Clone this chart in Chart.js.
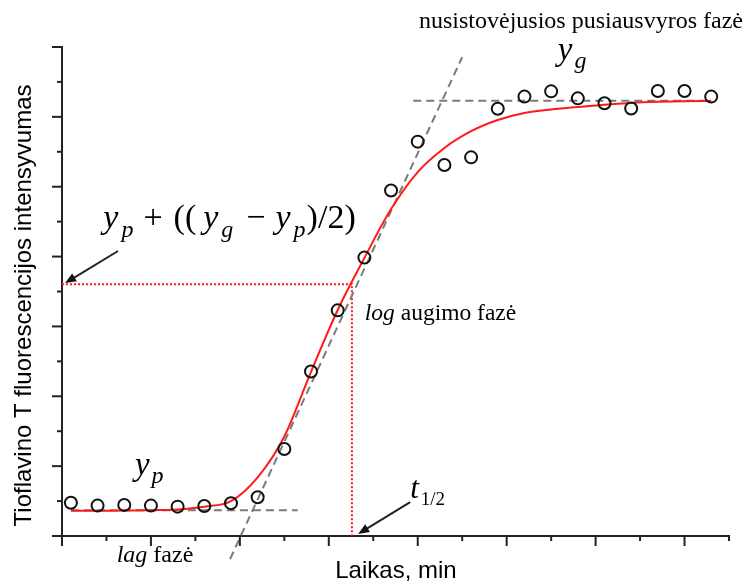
<!DOCTYPE html>
<html>
<head>
<meta charset="utf-8">
<script src="https://cdn.jsdelivr.net/npm/chart.js@4.4.1/dist/chart.umd.min.js"></script>
<style>
  html, body { margin: 0; padding: 0; background: #fff; }
  canvas { display: block; }
</style>
</head>
<body>
<canvas id="kinetics" width="745" height="581"></canvas>
<script>
const times = [0.2, 0.8, 1.4, 2.0, 2.6, 3.2, 3.8, 4.4, 5.0, 5.6, 6.2, 6.8, 7.4,
  8.0, 8.6, 9.2, 9.8, 10.4, 11.0, 11.6, 12.2, 12.8, 13.4, 14.0, 14.6]
const measured = [0.95, 0.87, 0.89, 0.87, 0.84, 0.86, 0.94, 1.11, 2.49, 4.71, 6.46, 7.97, 9.89,
  11.29, 10.62, 10.84, 12.23, 12.58, 12.73, 12.53, 12.39, 12.24, 12.74, 12.74, 12.58]
// fitted sigmoid, read at the same times
const fitted = [0.72, 0.72, 0.73, 0.74, 0.76, 0.84, 1.00, 1.68, 2.85, 4.70, 6.47, 7.96, 9.36,
  10.42, 11.11, 11.59, 11.91, 12.11, 12.21, 12.28, 12.35, 12.40, 12.43, 12.45, 12.46]

// helper lines
const lagX = [0.2, 5.3]
const lagLevel = [0.74, 0.74]
const plateauX = [7.9, 14.57]
const plateauLevel = [12.46, 12.46]
const tangentX = [3.78, 9.0]
const tangentY = [-0.66, 13.71]
const halfTime = 6.52
const halfLevel = 7.21

// axis ticks (no labels on either axis)
const xTicks = [0, 1, 2, 3, 4, 5, 6, 7, 8, 9, 10, 11, 12, 13, 14, 15]
const yTicks = [0, 1, 2, 3, 4, 5, 6, 7, 8, 9, 10, 11, 12, 13, 14]

const pairs = (xs, ys) => xs.map((v, i) => ({ x: v, y: ys[i] }))

const serif = '"Liberation Serif", "Times New Roman", serif'
const sans = '"Liberation Sans", Arial, sans-serif'

// draws a run of text pieces one after another
function drawRuns(ctx, x, y, runs) {
  let cx = x
  runs.forEach(r => {
    cx += r.pre || 0
    ctx.font = r.font
    ctx.fillText(r.t, cx, y + (r.dy || 0))
    cx += ctx.measureText(r.t).width
  })
}

function arrow(ctx, x1, y1, x2, y2) {
  const a = Math.atan2(y2 - y1, x2 - x1)
  const L = 11, W = 4.5
  ctx.beginPath()
  ctx.moveTo(x1, y1)
  ctx.lineTo(x2 - L * 0.8 * Math.cos(a), y2 - L * 0.8 * Math.sin(a))
  ctx.stroke()
  ctx.beginPath()
  ctx.moveTo(x2, y2)
  ctx.lineTo(x2 - L * Math.cos(a) + W * Math.sin(a), y2 - L * Math.sin(a) - W * Math.cos(a))
  ctx.lineTo(x2 - L * Math.cos(a) - W * Math.sin(a), y2 - L * Math.sin(a) + W * Math.cos(a))
  ctx.closePath()
  ctx.fill()
}

const overlay = {
  id: 'overlay',
  afterDraw(chart) {
    const { ctx, scales: { x, y } } = chart
    const px = v => x.getPixelForValue(v)
    const py = v => y.getPixelForValue(v)
    const x0 = px(0), y0 = py(0)

    ctx.save()
    ctx.strokeStyle = '#222'
    ctx.fillStyle = '#111'
    ctx.lineWidth = 2
    // ticks, long on even values
    xTicks.forEach(t => {
      const len = t % 2 === 0 ? 10 : 5
      ctx.beginPath()
      ctx.moveTo(px(t), y0)
      ctx.lineTo(px(t), y0 + len)
      ctx.stroke()
    })
    yTicks.forEach(t => {
      const len = t % 2 === 0 ? 10 : 5
      ctx.beginPath()
      ctx.moveTo(x0, py(t))
      ctx.lineTo(x0 - len, py(t))
      ctx.stroke()
    })

    // arrows
    ctx.lineWidth = 2
    arrow(ctx, px(1.26), py(8.16), px(0.07), py(7.24))
    arrow(ctx, px(7.83), py(0.97), px(6.66), py(0.06))

    ctx.textBaseline = 'alphabetic'
    ctx.fillStyle = '#000'

    // axis titles
    ctx.font = '24px ' + sans
    ctx.textAlign = 'center'
    ctx.fillText('Laikas, min', px(7.51), py(-1.2))
    ctx.save()
    ctx.translate(31, py(6.6))
    ctx.rotate(-Math.PI / 2)
    ctx.fillText('Tioflavino T fluorescencijos intensyvumas', 0, 0)
    ctx.restore()

    ctx.textAlign = 'left'
    ctx.font = '24px ' + serif
    ctx.fillText('nusistovėjusios pusiausvyros fazė', 419, py(14.54))

    const it = s => 'italic ' + s + 'px ' + serif
    const rm = s => s + 'px ' + serif

    drawRuns(ctx, px(6.81), py(6.18), [
      { t: 'log ', font: it(23.5) },
      { t: 'augimo fazė', font: rm(23.5) }
    ])
    drawRuns(ctx, px(1.23), py(-0.74), [
      { t: 'lag ', font: it(24) },
      { t: 'fazė', font: rm(24) }
    ])
    drawRuns(ctx, px(11.15), py(13.63), [
      { t: 'y', font: it(33) },
      { t: 'g', font: it(24), dy: 8, pre: 2 }
    ])
    drawRuns(ctx, px(1.64), py(1.75), [
      { t: 'y', font: it(33) },
      { t: 'p', font: it(24), dy: 8, pre: 2 }
    ])
    drawRuns(ctx, px(7.83), py(1.09), [
      { t: 't', font: it(31) },
      { t: '1/2', font: rm(19), dy: 7, pre: 2 }
    ])
    drawRuns(ctx, px(0.93), py(8.82), [
      { t: 'y', font: it(34) },
      { t: 'p', font: it(24), dy: 9, pre: 3 },
      { t: '+', font: rm(34), pre: 10 },
      { t: '((', font: rm(34), pre: 11 },
      { t: 'y', font: it(34), pre: 7 },
      { t: 'g', font: it(24), dy: 9, pre: 3 },
      { t: '−', font: rm(34), pre: 13 },
      { t: 'y', font: it(34), pre: 10 },
      { t: 'p', font: it(24), dy: 9, pre: 3 },
      { t: ')/2)', font: rm(34), pre: 1 }
    ])
    ctx.restore()
  }
}

const grey = '#7a7a7a'
const red = '#ff1a1a'

new Chart(document.getElementById('kinetics'), {
  type: 'scatter',
  data: {
    datasets: [
      {
        label: 'matavimai',
        data: pairs(times, measured),
        pointStyle: 'circle',
        pointRadius: 6,
        pointBorderWidth: 2,
        pointBorderColor: '#111',
        pointBackgroundColor: 'rgba(0,0,0,0)',
        showLine: false
      },
      {
        label: 'aproksimacija',
        data: pairs(times, fitted),
        showLine: true,
        borderColor: red,
        borderWidth: 2,
        pointRadius: 0,
        cubicInterpolationMode: 'monotone'
      },
      {
        label: 'lag',
        data: pairs(lagX, lagLevel),
        showLine: true,
        borderColor: grey,
        borderWidth: 2,
        borderDash: [8, 5],
        pointRadius: 0
      },
      {
        label: 'plateau',
        data: pairs(plateauX, plateauLevel),
        showLine: true,
        borderColor: grey,
        borderWidth: 2,
        borderDash: [8, 5],
        pointRadius: 0
      },
      {
        label: 'liestine',
        data: pairs(tangentX, tangentY),
        showLine: true,
        borderColor: grey,
        borderWidth: 2,
        borderDash: [8, 5],
        pointRadius: 0,
        clip: false
      },
      {
        label: 'puse',
        data: [{ x: 0, y: halfLevel }, { x: halfTime, y: halfLevel }, { x: halfTime, y: 0 }],
        showLine: true,
        borderColor: red,
        borderWidth: 2,
        borderDash: [2, 2],
        pointRadius: 0
      }
    ]
  },
  options: {
    responsive: false,
    animation: false,
    layout: { padding: { left: 62, right: 16, top: 47, bottom: 45 } },
    plugins: {
      legend: { display: false },
      tooltip: { enabled: false }
    },
    scales: {
      x: {
        type: 'linear',
        min: 0,
        max: 15,
        grid: { display: false, drawTicks: false },
        ticks: { display: false },
        border: { display: true, color: '#222', width: 2 },
        afterFit: s => { s.height = 0 }
      },
      y: {
        type: 'linear',
        min: 0,
        max: 14,
        grid: { display: false, drawTicks: false },
        ticks: { display: false },
        border: { display: true, color: '#222', width: 2 },
        afterFit: s => { s.width = 0 }
      }
    }
  },
  plugins: [overlay]
})
</script>
</body>
</html>
